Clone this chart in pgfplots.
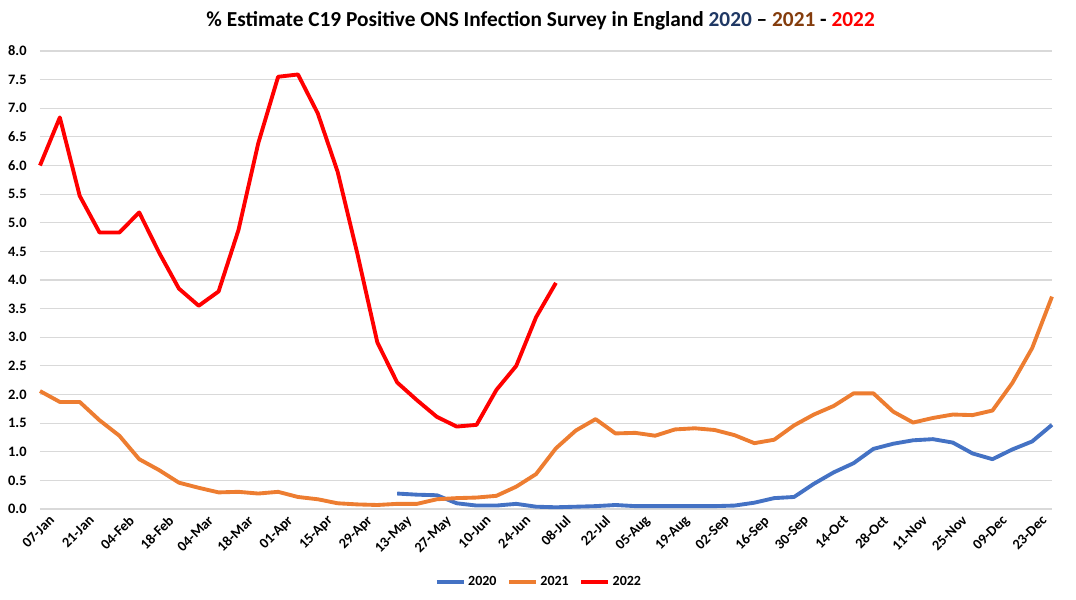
\documentclass[border=0pt]{standalone}
\usepackage{fontspec}
\setmainfont{Carlito}
\usepackage{pgfplots}
\pgfplotsset{compat=1.18}

\definecolor{c2020}{HTML}{4472C4}
\definecolor{c2021}{HTML}{ED7D31}
\definecolor{c2022}{HTML}{FF0000}
\definecolor{t2020}{HTML}{1F3864}
\definecolor{t2021}{HTML}{843C0C}
\definecolor{gridgray}{HTML}{D9D9D9}

\begin{document}
\begin{tikzpicture}
% page = 1076 x 600 px at 0.75pt per px; axis box sits at (0,0)
\path[use as bounding box] (-30pt,-68.25pt) rectangle (777pt,381.75pt);

\begin{axis}[
  at={(0,0)}, anchor=south west,
  scale only axis,
  width=759pt, height=343.5pt,
  xmin=0, xmax=51,
  ymin=0, ymax=8,
  clip=false,
  axis line style={draw=none},
  tick style={draw=none},
  ymajorgrids=true,
  grid style={gridgray, line width=0.8pt},
  ytick={0,0.5,...,8},
  xtick={0,2,...,50},
  xticklabels={07-Jan,21-Jan,04-Feb,18-Feb,04-Mar,18-Mar,01-Apr,15-Apr,29-Apr,13-May,27-May,10-Jun,24-Jun,08-Jul,22-Jul,05-Aug,19-Aug,02-Sep,16-Sep,30-Sep,14-Oct,28-Oct,11-Nov,25-Nov,09-Dec,23-Dec},
  tick label style={font=\fontsize{10.8}{12}\selectfont\bfseries},
  xticklabel style={rotate=45, anchor=north east, xshift=5pt, yshift=-4pt},
  yticklabel style={anchor=east, xshift=-6.5pt},
  /pgf/number format/.cd, fixed, fixed zerofill, precision=1, assume math mode=true,
  /pgfplots/.cd,
  title={\% Estimate C19 Positive ONS Infection Survey in England \textcolor{t2020}{2020} \textendash{} \textcolor{t2021}{2021} - \textcolor{c2022}{2022}},
  title style={font=\fontsize{16}{18}\selectfont\bfseries, at={(0.5,1)}, anchor=center, yshift=17pt, xshift=-4pt},
  legend columns=3,
  legend style={draw=none, at={(0.5,0)}, anchor=center, yshift=-55pt, xshift=-5pt,
    font=\fontsize{10.5}{12}\selectfont\bfseries,
    /tikz/every even column/.append style={column sep=6pt}},
  legend image code/.code={\draw[#1] (0pt,0pt) -- (20pt,0pt);},
  every axis plot/.append style={line width=2.9pt, line join=round, no marks},
]

% 2020
\addplot[c2020] coordinates {
(18,0.27) (19,0.25) (20,0.24) (21,0.10) (22,0.06) (23,0.06) (24,0.09) (25,0.04)
(26,0.03) (27,0.04) (28,0.05) (29,0.07) (30,0.05) (31,0.05) (32,0.05) (33,0.05)
(34,0.05) (35,0.06) (36,0.11) (37,0.19) (38,0.21) (39,0.44) (40,0.64) (41,0.80)
(42,1.05) (43,1.14) (44,1.20) (45,1.22) (46,1.16) (47,0.97) (48,0.87) (49,1.04)
(50,1.18) (51,1.47)};
\addlegendentry{2020}

% 2021
\addplot[c2021] coordinates {
(0,2.06) (1,1.87) (2,1.87) (3,1.55) (4,1.28) (5,0.87) (6,0.68) (7,0.46)
(8,0.37) (9,0.29) (10,0.30) (11,0.27) (12,0.30) (13,0.21) (14,0.17) (15,0.10)
(16,0.08) (17,0.07) (18,0.09) (19,0.09) (20,0.17) (21,0.19) (22,0.20) (23,0.23)
(24,0.39) (25,0.61) (26,1.06) (27,1.37) (28,1.57) (29,1.32) (30,1.33) (31,1.28)
(32,1.39) (33,1.41) (34,1.38) (35,1.29) (36,1.15) (37,1.21) (38,1.46) (39,1.65)
(40,1.80) (41,2.02) (42,2.02) (43,1.70) (44,1.51) (45,1.59) (46,1.65) (47,1.64)
(48,1.72) (49,2.20) (50,2.81) (51,3.71)};
\addlegendentry{2021}

% 2022
\addplot[c2022] coordinates {
(0,6.00) (1,6.84) (2,5.47) (3,4.83) (4,4.83) (5,5.18) (6,4.48) (7,3.85)
(8,3.55) (9,3.80) (10,4.87) (11,6.39) (12,7.55) (13,7.59) (14,6.91) (15,5.89)
(16,4.45) (17,2.91) (18,2.21) (19,1.90) (20,1.61) (21,1.44) (22,1.47) (23,2.08)
(24,2.50) (25,3.35) (26,3.95)};
\addlegendentry{2022}

\end{axis}
\end{tikzpicture}
\end{document}
